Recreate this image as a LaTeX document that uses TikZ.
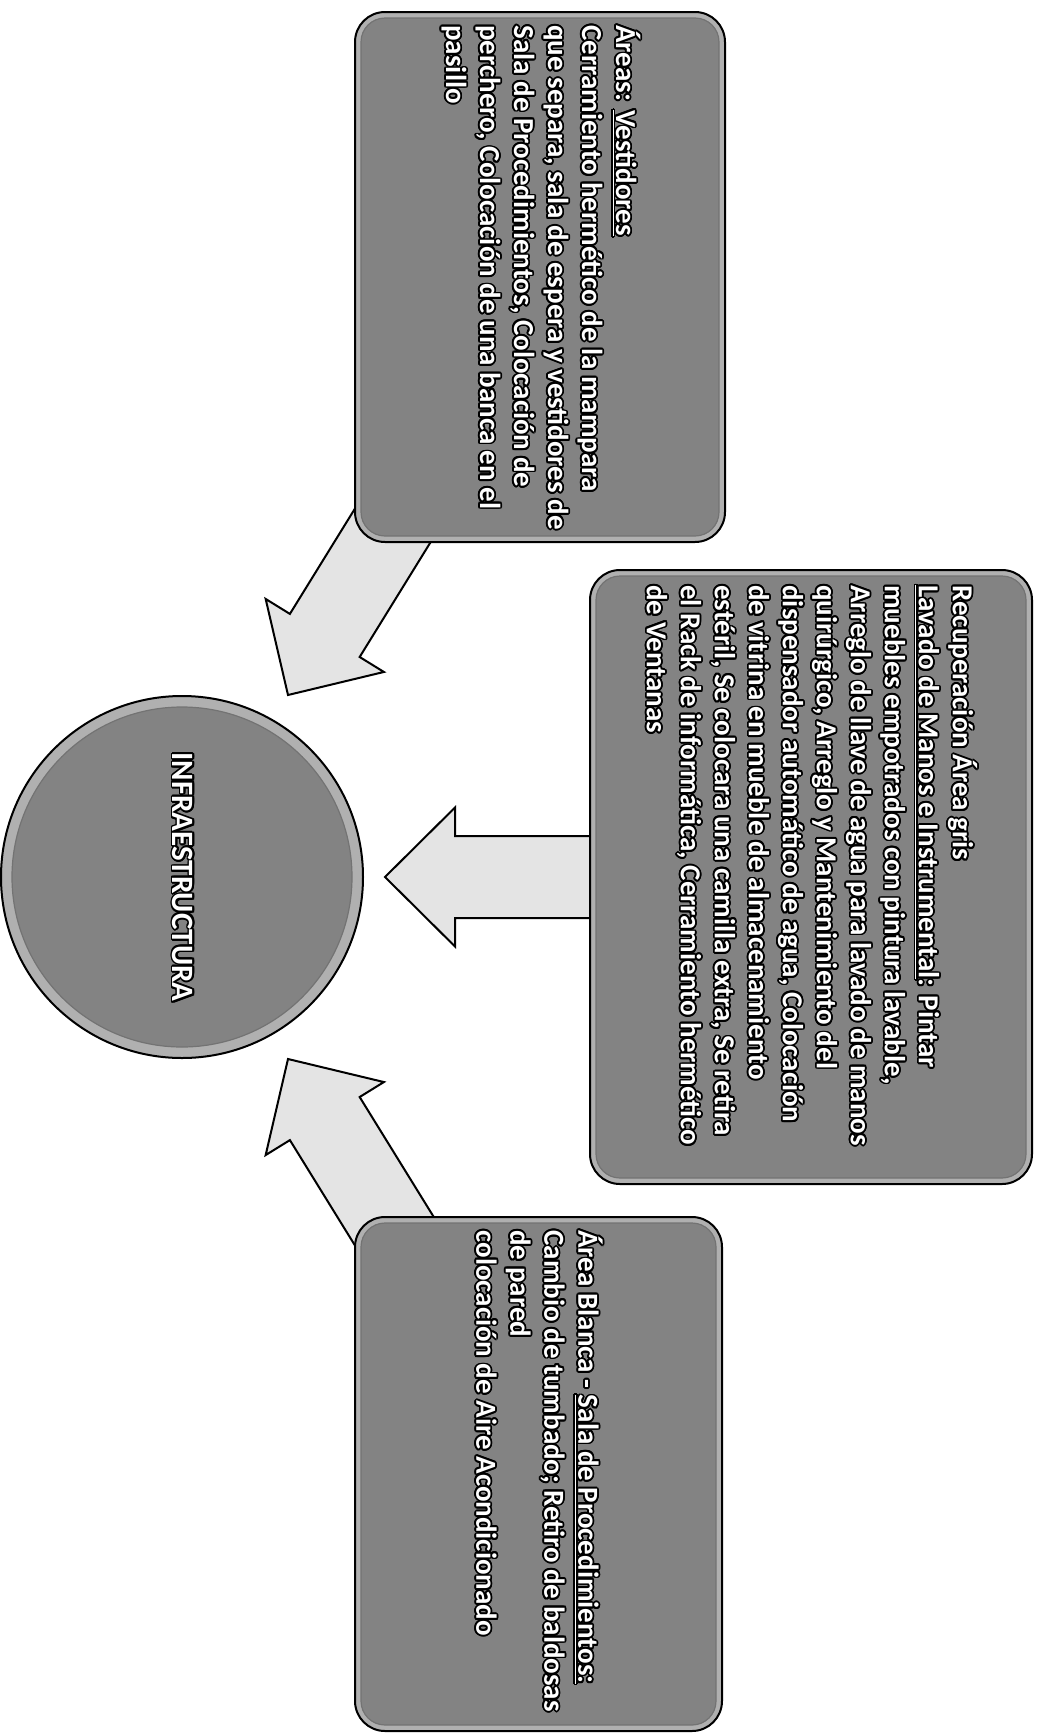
\documentclass[tikz,border=0pt]{standalone}
\usepackage{fontspec}
\setmainfont{Carlito}
\usepackage[copies]{contour}
\contourlength{0.9pt}
\usetikzlibrary{positioning}
\definecolor{boxgray}{HTML}{838383}
\definecolor{rimgray}{HTML}{B0B0B0}
\definecolor{arrowgray}{HTML}{E4E4E4}
\newcommand{\outl}[1]{\contour{black}{#1}}
\tikzset{every node/.style={inner sep=0pt},
  infobox/.style={draw=black, line width=1pt, fill=rimgray, rounded corners=15pt},
  bevel/.style={draw=black!55, line width=0.6pt, fill=boxgray, rounded corners=12pt},
  hub/.style={circle, draw=black, line width=1pt, fill=rimgray, minimum size=181pt},
  boxtext/.style={text=white, align=left, font=\bfseries\fontsize{14.5}{17}\selectfont},
  blockarrow/.style={draw=black, line width=1pt, fill=arrowgray, line join=miter}}

\begin{document}
\begin{tikzpicture}[x=0.5pt, y=-0.5pt]
  \useasboundingbox (0,0) rectangle (1039,1735);
  % block arrows first, the boxes hide their tails
  \foreach \tx/\ty/\ang in {385/877/0, 288/695/58.3, 288/1059/-58.3} {
   \begin{scope}[shift={(\tx,\ty)}, rotate=\ang]
    \draw[blockarrow] (0,0) -- (70,-69.5) -- (70,-41) -- (215,-41) -- (215,41) -- (70,41) -- (70,69.5) -- cycle;
   \end{scope}
  }
  % the three boxes
  \node[infobox, minimum width=185pt, minimum height=265pt] (vest) at (540,277) {};
  \node[infobox, minimum width=221pt, minimum height=307pt] (recup) at (811,877) {};
  \node[infobox, minimum width=183.5pt, minimum height=257pt] (blanca) at (538.5,1474) {};
  \foreach \b in {vest,recup,blanca}
    \draw[bevel] ([shift={(3.5pt,-3.5pt)}]\b.north west) rectangle ([shift={(-3.5pt,3.5pt)}]\b.south east);
  % centre
  \node[hub] (infra) at (182,877) {};
  \draw[bevel] (infra.center) circle[radius=85pt];
  \node[boxtext, rotate=-90, font=\bfseries\fontsize{15.5}{17}\selectfont] (infratext) at (infra.center) {\outl{INFRAESTRUCTURA}};
  % texts, read from top to bottom
  \node[boxtext, rotate=-90, anchor=west] (vesttext) at ([yshift=-7pt]vest.north)
    {\outl{Áreas: \underline{Vestidores}}\\
     \outl{Cerramiento hermético de la mampara}\\
     \outl{que separa, sala de espera y vestidores de}\\
     \outl{Sala de Procedimientos, Colocación de}\\
     \outl{perchero, Colocación de una banca en el}\\
     \outl{pasillo}};
  \node[boxtext, rotate=-90, anchor=west] (recuptext) at ([yshift=-8pt]recup.north)
    {\outl{Recuperación Área gris}\\
     \outl{\underline{Lavado de Manos e Instrumental}: Pintar}\\
     \outl{muebles empotrados con pintura lavable,}\\
     \outl{Arreglo de llave de agua para lavado de manos}\\
     \outl{quirúrgico, Arreglo y Mantenimiento del}\\
     \outl{dispensador automático de agua, Colocación}\\
     \outl{de vitrina en mueble de almacenamiento}\\
     \outl{estéril, Se colocara una camilla extra, Se retira}\\
     \outl{el Rack de informática, Cerramiento hermético}\\
     \outl{de Ventanas}};
  \node[boxtext, rotate=-90, anchor=west] (blancatext) at ([yshift=-7pt]blanca.north)
    {\outl{Área Blanca - \underline{Sala de Procedimientos:}}\\
     \outl{Cambio de tumbado; Retiro de baldosas}\\
     \outl{de pared}\\
     \outl{colocación de Aire Acondicionado}};
\end{tikzpicture}
\end{document}
